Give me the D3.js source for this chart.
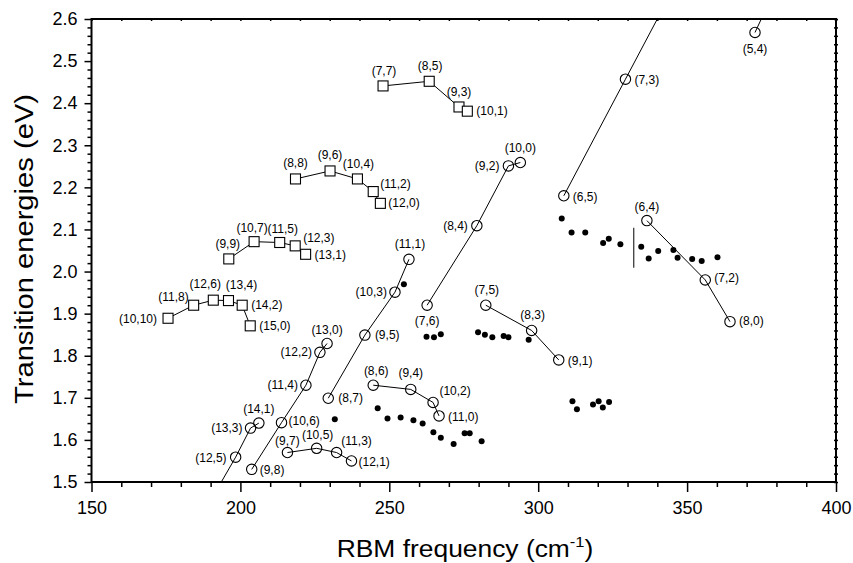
<!DOCTYPE html>
<html><head><meta charset="utf-8">
<script src="https://cdn.jsdelivr.net/npm/d3@7"></script>
<style>
html,body{margin:0;padding:0;background:#fff;}
svg{display:block;font-family:"Liberation Sans",Arial,sans-serif;}
</style></head>
<body><svg id="c" width="853" height="563"></svg>
<script>
// ---------- DATA ----------
// x axis: RBM frequency (cm^-1), y axis: transition energy (eV)
const xTicks = [150, 200, 250, 300, 350, 400];
const yTicks = [1.5, 1.6, 1.7, 1.8, 1.9, 2.0, 2.1, 2.2, 2.3, 2.4, 2.5, 2.6];

// semiconducting families (open circles) - upper branch, lines extended (empty label = off-chart point)
const fam29 = [["", 190.0, 1.456], ["(12,5)", 198.4, 1.559], ["(13,3)", 203.4, 1.628], ["(14,1)", 206.2, 1.640]];
const fam26 = [["(9,8)", 203.8, 1.530], ["(10,6)", 213.8, 1.641], ["(11,4)", 222.0, 1.730], ["(12,2)", 226.7, 1.808], ["(13,0)", 229.1, 1.829]];
const fam23 = [["(8,7)", 229.5, 1.699], ["(9,5)", 241.8, 1.849], ["(10,3)", 251.9, 1.951], ["(11,1)", 256.6, 2.029]];
const fam20 = [["(7,6)", 262.7, 1.920], ["(8,4)", 279.4, 2.109], ["(9,2)", 290.0, 2.251], ["(10,0)", 294.0, 2.259]];
const fam17 = [["(6,5)", 308.6, 2.180], ["(7,3)", 329.3, 2.457], ["", 345.0, 2.667]];
const fam14 = [["(5,4)", 372.8, 2.568], ["", 380.0, 2.677]];
// semiconducting families (open circles) - lower branch
const fam25 = [["(9,7)", 215.8, 1.570], ["(10,5)", 225.6, 1.580], ["(11,3)", 232.3, 1.570], ["(12,1)", 237.3, 1.550]];
const fam22 = [["(8,6)", 244.6, 1.730], ["(9,4)", 257.2, 1.720], ["(10,2)", 264.7, 1.689], ["(11,0)", 266.7, 1.657]];
const fam19 = [["(7,5)", 282.4, 1.920], ["(8,3)", 297.8, 1.860], ["(9,1)", 306.9, 1.790]];
const fam16 = [["(6,4)", 336.5, 2.121], ["(7,2)", 356.1, 1.980], ["(8,0)", 364.4, 1.881]];
// metallic families (open squares)
const met30 = [["(10,10)", 175.7, 1.889], ["(11,8)", 184.3, 1.920], ["(12,6)", 190.9, 1.932], ["(13,4)", 196.0, 1.931], ["(14,2)", 200.6, 1.920], ["(15,0)", 203.3, 1.871]];
const met27 = [["(9,9)", 196.1, 2.030], ["(10,7)", 204.6, 2.071], ["(11,5)", 213.2, 2.069], ["(12,3)", 218.4, 2.061], ["(13,1)", 221.9, 2.041]];
const met24 = [["(8,8)", 218.5, 2.220], ["(9,6)", 230.1, 2.239], ["(10,4)", 239.3, 2.220], ["(11,2)", 244.6, 2.190], ["(12,0)", 247.0, 2.162]];
const met21 = [["(7,7)", 247.9, 2.441], ["(8,5)", 263.4, 2.452], ["(9,3)", 273.4, 2.391], ["(10,1)", 276.2, 2.381]];

// experimental points (filled dots)
const expRbm = [254.9, 262.5, 265.0, 267.3, 279.8, 282.1, 284.6, 288.4, 290.0, 296.8,
  231.7, 246.1, 249.4, 253.8, 258.1, 261.2, 264.8, 267.3, 271.6, 275.3, 277.0, 281.0,
  311.5, 313.0, 318.4, 320.3, 321.7, 323.8,
  307.9, 311.2, 315.8, 321.8, 323.7, 327.6, 334.6, 337.1, 340.3, 345.4, 346.8, 351.7, 354.9, 360.2];
const expE = [1.970, 1.845, 1.844, 1.851, 1.856, 1.850, 1.844, 1.847, 1.844, 1.838,
  1.649, 1.675, 1.651, 1.653, 1.647, 1.639, 1.618, 1.605, 1.590, 1.616, 1.616, 1.597,
  1.692, 1.673, 1.684, 1.692, 1.677, 1.690,
  2.126, 2.093, 2.093, 2.068, 2.078, 2.065, 2.059, 2.031, 2.049, 2.051, 2.033, 2.030, 2.025, 2.034];

// vertical marker segment: [rbm, eLow, eHigh]
const markerSeg = [332.1, 2.009, 2.104];

// ---------- LAYOUT / STYLE ----------
// label placement: [dx, dy, anchor] in pixels relative to the marker
const labelPlace = {
  "(7,7)": [1, -15, "middle"], "(8,5)": [1, -15, "middle"], "(9,3)": [0, -15, "middle"], "(10,1)": [9, 0, "start"],
  "(8,8)": [0, -16, "middle"], "(9,6)": [0, -16, "middle"], "(10,4)": [1, -15, "middle"], "(11,2)": [7, -8, "start"], "(12,0)": [8, 0, "start"],
  "(9,9)": [-1, -15, "middle"], "(10,7)": [-2, -14, "middle"], "(11,5)": [3, -14, "middle"], "(12,3)": [8, -8, "start"], "(13,1)": [9, 1, "start"],
  "(10,10)": [-11, 1, "end"], "(11,8)": [-5, -8, "end"], "(12,6)": [-8, -16, "middle"], "(13,4)": [13, -16, "middle"], "(14,2)": [9, 0, "start"], "(15,0)": [9, 0, "start"],
  "(12,5)": [-9, 1, "end"], "(13,3)": [-8, 0, "end"], "(14,1)": [0, -14, "middle"],
  "(9,8)": [8, 1, "start"], "(10,6)": [7, -2, "start"], "(11,4)": [-8, 0, "end"], "(12,2)": [-8, 0, "end"], "(13,0)": [0, -14, "middle"],
  "(8,7)": [10, 0, "start"], "(9,5)": [10, 0, "start"], "(10,3)": [-8, 0, "end"], "(11,1)": [1, -15, "middle"],
  "(7,6)": [0, 16, "middle"], "(8,4)": [-9, 0, "end"], "(9,2)": [-9, 0, "end"], "(10,0)": [0, -15, "middle"],
  "(6,5)": [9, 1, "start"], "(7,3)": [9, 1, "start"], "(5,4)": [0, 17, "middle"],
  "(9,7)": [0, -12, "middle"], "(10,5)": [1, -13, "middle"], "(11,3)": [20, -12, "middle"], "(12,1)": [7, 1, "start"],
  "(8,6)": [3, -14, "middle"], "(9,4)": [0, -16, "middle"], "(10,2)": [22, -11, "middle"], "(11,0)": [9, 1, "start"],
  "(7,5)": [1, -15, "middle"], "(8,3)": [1, -15, "middle"], "(9,1)": [9, 1, "start"],
  "(6,4)": [0, -14, "middle"], "(7,2)": [9, -2, "start"], "(8,0)": [9, -1, "start"]
};

const W = 853, H = 563;
const L = 91.5, R = 836, T = 19, B = 482;
const svg = d3.select("#c");
const x = d3.scaleLinear().domain([150, 400]).range([L, R]);
const y = d3.scaleLinear().domain([1.5, 2.6]).range([B, T]);

svg.append("defs").append("clipPath").attr("id", "clip")
  .append("rect").attr("x", L).attr("y", T).attr("width", R - L).attr("height", B - T);

const plot = svg.append("g").attr("clip-path", "url(#clip)");
const line = d3.line().x(d => x(d[1])).y(d => y(d[2]));

const circleFams = [fam29, fam26, fam23, fam20, fam17, fam14, fam25, fam22, fam19, fam16];
const squareFams = [met30, met27, met24, met21];

// lines
[...circleFams, ...squareFams].forEach(f => {
  plot.append("path").datum(f).attr("d", line)
    .attr("fill", "none").attr("stroke", "#000").attr("stroke-width", 1);
});

// experimental dots
plot.selectAll("circle.exp").data(expRbm.map((v, i) => [v, expE[i]])).enter()
  .append("circle").attr("class", "exp")
  .attr("cx", d => x(d[0])).attr("cy", d => y(d[1])).attr("r", 3).attr("fill", "#000");

// vertical marker
plot.append("line").attr("x1", x(markerSeg[0])).attr("x2", x(markerSeg[0]))
  .attr("y1", y(markerSeg[1])).attr("y2", y(markerSeg[2]))
  .attr("stroke", "#000").attr("stroke-width", 1);

// circles
circleFams.forEach(f => {
  plot.selectAll(null).data(f.filter(d => d[0] !== "")).enter().append("circle")
    .attr("cx", d => x(d[1])).attr("cy", d => y(d[2])).attr("r", 5.2)
    .attr("fill", "none").attr("stroke", "#000").attr("stroke-width", 1.1);
});
// squares
squareFams.forEach(f => {
  plot.selectAll(null).data(f).enter().append("rect")
    .attr("x", d => x(d[1]) - 5).attr("y", d => y(d[2]) - 5).attr("width", 10).attr("height", 10)
    .attr("fill", "#fff").attr("stroke", "#000").attr("stroke-width", 1.1);
});

// labels
const labG = svg.append("g").attr("font-size", 12).attr("fill", "#000");
[...circleFams, ...squareFams].forEach(f => {
  f.filter(d => d[0] !== "").forEach(d => {
    const p = labelPlace[d[0]] || [9, 0, "start"];
    labG.append("text").attr("x", x(d[1]) + p[0]).attr("y", y(d[2]) + p[1])
      .attr("text-anchor", p[2]).attr("dominant-baseline", "central").text(d[0]);
  });
});

// ---------- AXES ----------
const axG = svg.append("g");
// bottom major
const bAx = axG.append("g").attr("transform", `translate(0,${B})`)
  .call(d3.axisBottom(x).tickValues(xTicks).tickSize(10).tickPadding(9).tickFormat(d3.format("d")));
// bottom minor
axG.append("g").attr("transform", `translate(0,${B})`)
  .call(d3.axisBottom(x).tickValues(d3.range(160, 400, 10).filter(v => v % 50 !== 0)).tickSize(5).tickFormat(""));
// left major
const lAx = axG.append("g").attr("transform", `translate(${L},0)`)
  .call(d3.axisLeft(y).tickValues(yTicks).tickSize(7).tickPadding(7).tickFormat(d3.format(".1f")));
// left minor
axG.append("g").attr("transform", `translate(${L},0)`)
  .call(d3.axisLeft(y).tickValues(d3.range(1.52, 2.6, 0.02).filter(v => Math.abs(v * 10 - Math.round(v * 10)) > 0.01)).tickSize(4).tickFormat(""));
// top
axG.append("g").attr("transform", `translate(0,${T})`)
  .call(d3.axisBottom(x).tickValues(d3.range(150, 401, 10)).tickSize(2).tickFormat(""));
// right (crossing small ticks)
const rAx = axG.append("g").attr("transform", `translate(${R},0)`)
  .call(d3.axisRight(y).tickValues(d3.range(1.5, 2.601, 0.02)).tickSize(2).tickFormat(""));
rAx.selectAll(".tick line").attr("x1", -2);

axG.selectAll(".domain").remove();
axG.selectAll(".tick line").attr("stroke", "#000").attr("stroke-width", 1.5);
axG.selectAll("text").attr("font-size", 18).attr("fill", "#000")
  .attr("font-family", "'Liberation Sans',Arial,sans-serif");

// frame
axG.append("rect").attr("x", L).attr("y", T).attr("width", R - L).attr("height", B - T)
  .attr("fill", "none").attr("stroke", "#000").attr("stroke-width", 2);

// axis titles
svg.append("text").attr("transform", "translate(33,249) rotate(-90)")
  .attr("text-anchor", "middle").attr("font-size", 25)
  .attr("textLength", 310).attr("lengthAdjust", "spacingAndGlyphs")
  .text("Transition energies (eV)");

const xt = svg.append("text").attr("text-anchor", "middle").attr("font-size", 24)
  .attr("transform", "translate(465,557) scale(1.1,1)");
xt.append("tspan").text("RBM frequency (cm");
xt.append("tspan").attr("font-size", 15).attr("dy", -10).text("-1");
xt.append("tspan").attr("dy", 10).text(")");
</script>
</body></html>
